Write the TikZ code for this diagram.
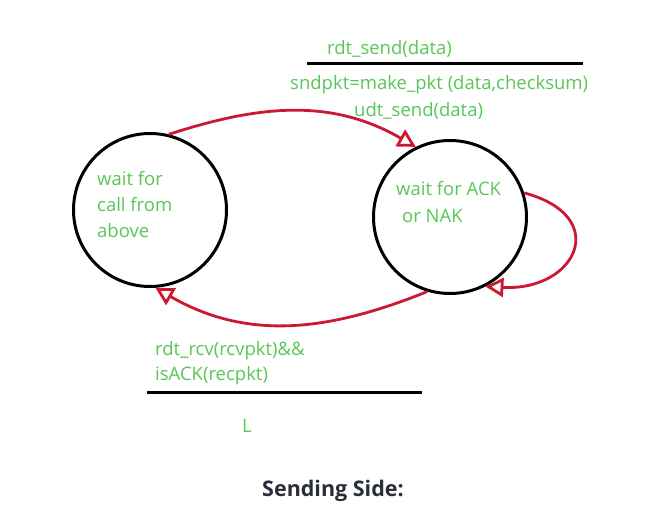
\documentclass[tikz,border=0pt]{standalone}
\usepackage{fontspec}
\setmainfont{Open Sans}
\usetikzlibrary{arrows.meta,automata,positioning}
\definecolor{fsmgreen}{RGB}{88,198,88}
\definecolor{fsmred}{RGB}{205,24,50}
\definecolor{captiongray}{RGB}{42,46,58}

\begin{document}
\begin{tikzpicture}[x=1pt,y=-1pt,>={Triangle[open,length=18pt,width=19pt]},
  every state/.style={draw,line width=3pt,minimum size=153pt},
  lbl/.style={anchor=base west,inner sep=0pt,text=fsmgreen,font=\fontsize{18.5}{26}\selectfont},
  trans/.style={->,draw=fsmred,line width=2.8pt},
  bar/.style={draw,line width=3pt}]
  \useasboundingbox (0,0) rectangle (669,516);
  \node[state] (call) at (150,210) {};
  \node[state] (wait) at (450,217) {};
  % text inside the states
  \node[lbl] (callA) at (97,185) {wait for};
  \node[lbl] (callB) at (97,211) {call from};
  \node[lbl] (callC) at (97,237) {above};
  \node[lbl] (waitA) at (396,195) {wait for ACK};
  \node[lbl] (waitB) at (402,222) {or NAK};
  % event / action labels
  \node[lbl] (sendev) at (327,55) {rdt\_send(data)};
  \node[lbl] (sendact) at (290,90) {sndpkt=make\_pkt (data,checksum)};
  \node[lbl] (sendudt) at (354,117) {udt\_send(data)};
  \node[lbl] (rcvev) at (155,355) {rdt\_rcv(rcvpkt)\&\&};
  \node[lbl] (rcvack) at (155,380) {isACK(recpkt)};
  \node[lbl] (rcvact) at (242,432) {L};
  \draw[bar] (307,64) -- (583,64);
  \draw[bar] (147,392) -- (422,392);
  \path
    (call.76) edge[trans,out=18,in=150] (wait.116)
    (wait.253) edge[trans,out=202,in=-30] (call.-86)
    (wait.18) edge[trans,out=-15,in=-3,looseness=2.3] (wait.-63);
  \node[anchor=base west,inner sep=0pt,text=captiongray,font=\fontsize{21.5}{24}\selectfont\bfseries]
    (caption) at (262,496) {Sending Side:};
\end{tikzpicture}
\end{document}
